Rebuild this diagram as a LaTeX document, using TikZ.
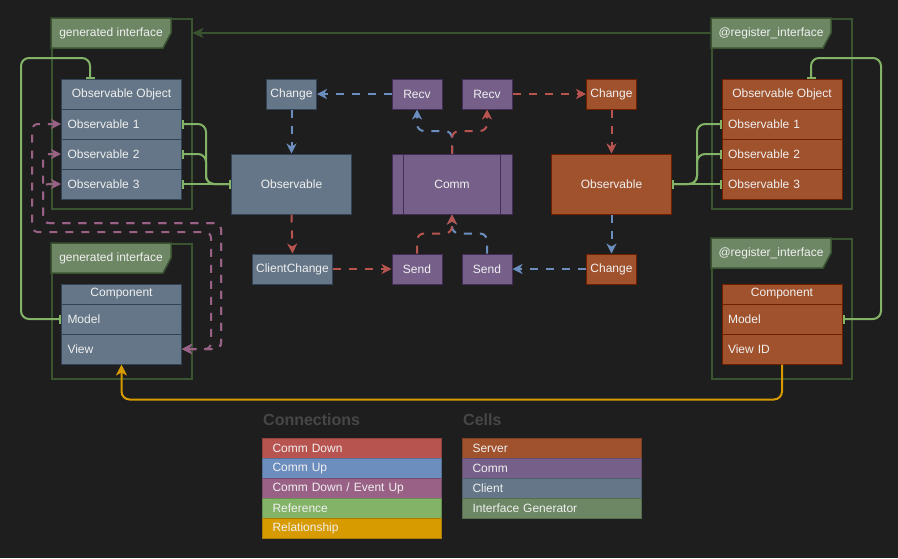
\documentclass[tikz,border=0pt]{standalone}
\usepackage{fontspec}
\setmainfont{Liberation Sans}
\usetikzlibrary{arrows.meta,calc}
\definecolor{bg}{HTML}{1E1E1E}
\definecolor{txt}{HTML}{F0F0F0}
\definecolor{clientF}{HTML}{647687}
\definecolor{clientS}{HTML}{314354}
\definecolor{serverF}{HTML}{A0522D}
\definecolor{serverS}{HTML}{6D1F00}
\definecolor{commF}{HTML}{76608A}
\definecolor{commS}{HTML}{432D57}
\definecolor{genF}{HTML}{6D8764}
\definecolor{genS}{HTML}{3A5431}
\definecolor{redC}{HTML}{B85450}
\definecolor{blueC}{HTML}{6C8EBF}
\definecolor{purpC}{HTML}{996185}
\definecolor{greenC}{HTML}{82B366}
\definecolor{orangeC}{HTML}{D79B00}
\definecolor{titleC}{HTML}{474747}
\begin{document}
\begin{tikzpicture}[x=1pt,y=-1pt,
  base/.style={font=\fontsize{12}{14}\selectfont, text=txt, inner sep=0pt, anchor=north west, line width=1pt},
  client/.style={base, draw=clientS, fill=clientF},
  server/.style={base, draw=serverS, fill=serverF},
  commcell/.style={base, draw=commS, fill=commF},
  sz/.style 2 args={minimum width=#1pt, minimum height=#2pt},
  rowbox/.style={minimum width=120pt, minimum height=30pt, text width=108pt, align=left},
  frame/.style={draw=genS, line width=1.5pt, anchor=north west, inner sep=0pt, minimum width=140pt},
  tabshape/.style={draw=genS, fill=genF, line width=1.5pt},
  tabtext/.style={font=\fontsize{12}{14}\selectfont, text=txt, inner sep=0pt},
  conn/.style={line width=2pt, dash pattern=on 8pt off 8pt, rounded corners=7pt},
  tipc/.style={-{Stealth[length=10pt,width=10pt,inset=3pt]}},
  down/.style={conn, draw=redC, tipc},
  up/.style={conn, draw=blueC, tipc},
  evt/.style={conn, rounded corners=6pt, draw=purpC, {Stealth[length=10pt,width=10pt,inset=3pt]}-{Stealth[length=10pt,width=10pt,inset=3pt]}},
  ref/.style={draw=greenC, line width=2pt, rounded corners=8pt, {Bar[width=9pt]}-{Bar[width=9pt]}},
  legrow/.style={base, minimum width=179pt, minimum height=20pt, text width=159pt, align=left},
  legtitle/.style={font=\bfseries\fontsize{16}{19}\selectfont, text=titleC, inner sep=0pt, anchor=west},
]
\fill[bg] (0,0) rectangle (898,558);
\useasboundingbox (0,0) rectangle (898,558);

% ---------- group frames ----------
\node[frame, minimum height=190pt] (gL1) at (51,18) {};
\node[frame, minimum height=135pt] (gL2) at (51,243) {};
\node[frame, minimum height=190pt] (gR1) at (711,18) {};
\node[frame, minimum height=140pt] (gR2) at (711,238) {};
\draw[tabshape] (51,18) -- (171,18) -- (171,33) -- (163,48) -- (51,48) -- cycle;
\node[tabtext] (tabL1) at (111,33) {generated interface};
\draw[tabshape] (51,243) -- (171,243) -- (171,258) -- (163,273) -- (51,273) -- cycle;
\node[tabtext] (tabL2) at (111,258) {generated interface};
\draw[tabshape] (711,18) -- (831,18) -- (831,33) -- (823,48) -- (711,48) -- cycle;
\node[tabtext] (tabR1) at (771,33) {@register\_interface};
\draw[tabshape] (711,238) -- (831,238) -- (831,253) -- (823,268) -- (711,268) -- cycle;
\node[tabtext] (tabR2) at (771,253) {@register\_interface};

% ---------- left observable object ----------
\node[client, sz={120}{30}] (ooLh) at (61,78.5) {Observable Object};
\node[client, rowbox] (ooL1) at (61,108.5) {Observable 1};
\node[client, rowbox] (ooL2) at (61,138.5) {Observable 2};
\node[client, rowbox] (ooL3) at (61,168.5) {Observable 3};

% ---------- left component ----------
\node[client, sz={120}{20}] (cLh) at (61,283.5) {Component};
\node[client, rowbox] (cLm) at (61,303.5) {Model};
\node[client, rowbox] (cLv) at (61,333.5) {View};

% ---------- right observable object ----------
\node[server, sz={120}{30}] (ooRh) at (721.5,78.5) {Observable Object};
\node[server, rowbox] (ooR1) at (721.5,108.5) {Observable 1};
\node[server, rowbox] (ooR2) at (721.5,138.5) {Observable 2};
\node[server, rowbox] (ooR3) at (721.5,168.5) {Observable 3};

% ---------- right component ----------
\node[server, sz={120}{20}] (cRh) at (721.5,283.5) {Component};
\node[server, rowbox] (cRm) at (721.5,303.5) {Model};
\node[server, rowbox] (cRv) at (721.5,333.5) {View ID};

% ---------- centre cells ----------
\node[client, sz={50}{30}] (chgL) at (266,78.5) {Change};
\node[client, sz={120}{60}] (obsL) at (231,153.5) {Observable};
\node[client, sz={80}{30}] (cc) at (252,253.5) {ClientChange};
\node[commcell, sz={50}{30}] (recv1) at (391.5,78.5) {Recv};
\node[commcell, sz={50}{30}] (recv2) at (461.5,78.5) {Recv};
\node[commcell, sz={120}{60}] (comm) at (391.5,153.5) {Comm};
\draw[commS, line width=1pt] ($(comm.north west)+(12,0)$) -- ($(comm.south west)+(12,0)$);
\draw[commS, line width=1pt] ($(comm.north east)+(-12,0)$) -- ($(comm.south east)+(-12,0)$);
\node[commcell, sz={50}{30}] (send1) at (391.5,253.5) {Send};
\node[commcell, sz={50}{30}] (send2) at (461.5,253.5) {Send};
\node[server, sz={50}{30}] (chgR) at (586,78.5) {Change};
\node[server, sz={120}{60}] (obsR) at (551,153.5) {Observable};
\node[server, sz={50}{30}] (chgR2) at (586,253.5) {Change};

% ---------- dark green interface arrow ----------
\draw[genS, line width=2pt, -{Stealth[length=11pt,width=10pt,inset=3pt]}] (gR1.west |- tabR1) -- (gL1.east |- tabR1);

% ---------- references (green) ----------
\coordinate (ooLtop) at ($(ooLh.north west)!0.24!(ooLh.north east)$);
\coordinate (ooRtop) at ($(ooRh.north west)!0.74!(ooRh.north east)$);
\draw[ref] (ooLtop) |- (21,58) |- (cLm.west);
\draw[ref] (ooRtop) |- (881,58) |- (cRm.east);
\draw[ref] (ooL1.east) -| ($(obsL.west)+(-25,0)$) -- (obsL.west);
\draw[ref] (ooL2.east) -| ($(obsL.west)+(-25,0)$) -- (obsL.west);
\draw[ref] (ooL3.east) -- (obsL.west);
\draw[ref] (obsR.east) -- ++(25,0) |- (ooR1.west);
\draw[ref] (obsR.east) -- ++(25,0) |- (ooR2.west);
\draw[ref] (obsR.east) -- (ooR3.west);

% ---------- relationship (orange) ----------
\draw[orangeC, line width=2pt, rounded corners=8pt, -{Stealth[length=11pt,width=11pt,inset=3pt]}] (cRv.south) |- ($(cLv.south)+(0,35)$) -- (cLv.south);

% ---------- comm up (blue) ----------
\draw[up] (recv1.west) -- (chgL.east);
\draw[up] (chgL.south) -- (obsL.north);
\draw[up] (comm.north) -- ++(0,-22.5) -| (recv1.south);
\draw[up] (obsR.south) -- (chgR2.north);
\draw[up] (chgR2.west) -- (send2.east);
\draw[up] (send2.north) -- ++(0,-20) -| (comm.south);

% ---------- comm down (red) ----------
\draw[down] (comm.north) -- ++(0,-22.5) -| (recv2.south);
\draw[down] (recv2.east) -- (chgR.west);
\draw[down] (chgR.south) -- (obsR.north);
\draw[down] (send1.north) -- ++(0,-20) -| (comm.south);
\draw[down] (obsL.south) -- (cc.north);
\draw[down] (cc.east) -- (send1.west);

% ---------- comm down / event up (purple) ----------
\draw[evt] (cLv.east) -| (211,232) -| ($(ooL1.west)+(-29,0)$) -- (ooL1.west);
\draw[evt] (cLv.east) -| (221,223) -| ($(ooL2.west)+(-18,0)$) -- (ooL2.west);
\draw[evt] (cLv.east) -| (221,223) -| ($(ooL3.west)+(-18,0)$) -- (ooL3.west);

% ---------- legend ----------
\node[legtitle] (tConn) at (263,420) {Connections};
\node[legtitle] (tCells) at (463,420) {Cells};
\node[legrow, fill=redC, draw=redC!80!black] (lc1) at (262,438) {Comm Down};
\node[legrow, fill=blueC, draw=blueC!80!black] (lc2) at (262,458) {Comm Up};
\node[legrow, fill=purpC, draw=purpC!80!black] (lc3) at (262,478) {Comm Down / Event Up};
\node[legrow, fill=greenC, draw=greenC!80!black] (lc4) at (262,498) {Reference};
\node[legrow, fill=orangeC, draw=orangeC!80!black] (lc5) at (262,518) {Relationship};
\node[legrow, fill=serverF, draw=serverF!80!black] (ld1) at (462,438) {Server};
\node[legrow, fill=commF, draw=commF!80!black] (ld2) at (462,458) {Comm};
\node[legrow, fill=clientF, draw=clientF!80!black] (ld3) at (462,478) {Client};
\node[legrow, fill=genF, draw=genF!80!black] (ld4) at (462,498) {Interface Generator};
\end{tikzpicture}
\end{document}
